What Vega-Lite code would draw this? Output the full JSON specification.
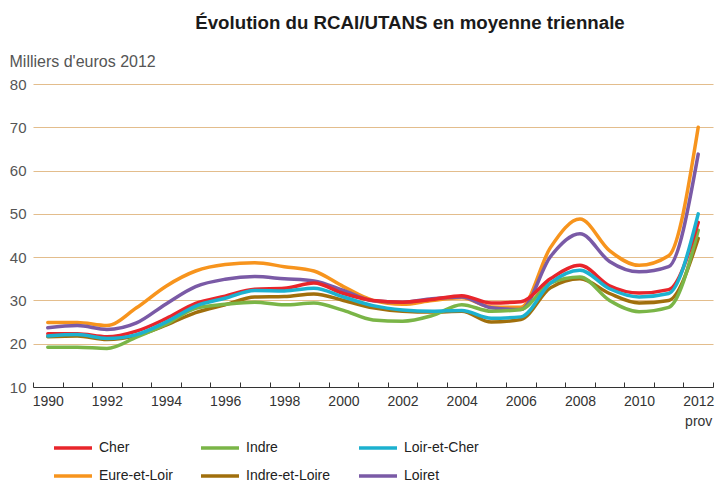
{
  "$schema": "https://vega.github.io/schema/vega-lite/v6.json",
  "autosize": {"type": "none"},
  "padding": {"left": 33, "top": 84, "right": 3, "bottom": 97},
  "width": 680,
  "height": 303,
  "background": "white",
  "config": {"view": {"stroke": null}, "font": "Liberation Sans"},
  "title": {
    "text": "Évolution du RCAI/UTANS en moyenne triennale",
    "font": "Liberation Sans",
    "fontSize": 18.7,
    "fontWeight": "bold",
    "color": "#1a1a1a",
    "anchor": "middle",
    "frame": "group",
    "baseline": "alphabetic",
    "dx": 37,
    "offset": 5
  },
  "data": {
    "values": [
      {"year": 1990, "dept": "Eure-et-Loir", "value": 24.9},
      {"year": 1991, "dept": "Eure-et-Loir", "value": 24.9},
      {"year": 1992, "dept": "Eure-et-Loir", "value": 24.2},
      {"year": 1993, "dept": "Eure-et-Loir", "value": 28.3},
      {"year": 1994, "dept": "Eure-et-Loir", "value": 33.3},
      {"year": 1995, "dept": "Eure-et-Loir", "value": 36.8},
      {"year": 1996, "dept": "Eure-et-Loir", "value": 38.3},
      {"year": 1997, "dept": "Eure-et-Loir", "value": 38.7},
      {"year": 1998, "dept": "Eure-et-Loir", "value": 37.8},
      {"year": 1999, "dept": "Eure-et-Loir", "value": 36.8},
      {"year": 2000, "dept": "Eure-et-Loir", "value": 33.2},
      {"year": 2001, "dept": "Eure-et-Loir", "value": 30.0},
      {"year": 2002, "dept": "Eure-et-Loir", "value": 29.1},
      {"year": 2003, "dept": "Eure-et-Loir", "value": 30.0},
      {"year": 2004, "dept": "Eure-et-Loir", "value": 30.6},
      {"year": 2005, "dept": "Eure-et-Loir", "value": 28.5},
      {"year": 2006, "dept": "Eure-et-Loir", "value": 28.4},
      {"year": 2007, "dept": "Eure-et-Loir", "value": 42.2},
      {"year": 2008, "dept": "Eure-et-Loir", "value": 48.8},
      {"year": 2009, "dept": "Eure-et-Loir", "value": 41.5},
      {"year": 2010, "dept": "Eure-et-Loir", "value": 38.1},
      {"year": 2011, "dept": "Eure-et-Loir", "value": 40.3},
      {"year": 2012, "dept": "Eure-et-Loir", "value": 70.0},

      {"year": 1990, "dept": "Loiret", "value": 23.7},
      {"year": 1991, "dept": "Loiret", "value": 24.2},
      {"year": 1992, "dept": "Loiret", "value": 23.3},
      {"year": 1993, "dept": "Loiret", "value": 24.8},
      {"year": 1994, "dept": "Loiret", "value": 29.2},
      {"year": 1995, "dept": "Loiret", "value": 33.2},
      {"year": 1996, "dept": "Loiret", "value": 34.9},
      {"year": 1997, "dept": "Loiret", "value": 35.5},
      {"year": 1998, "dept": "Loiret", "value": 35.0},
      {"year": 1999, "dept": "Loiret", "value": 34.5},
      {"year": 2000, "dept": "Loiret", "value": 32.3},
      {"year": 2001, "dept": "Loiret", "value": 29.9},
      {"year": 2002, "dept": "Loiret", "value": 29.6},
      {"year": 2003, "dept": "Loiret", "value": 30.4},
      {"year": 2004, "dept": "Loiret", "value": 30.8},
      {"year": 2005, "dept": "Loiret", "value": 28.3},
      {"year": 2006, "dept": "Loiret", "value": 27.9},
      {"year": 2007, "dept": "Loiret", "value": 40.1},
      {"year": 2008, "dept": "Loiret", "value": 45.4},
      {"year": 2009, "dept": "Loiret", "value": 39.0},
      {"year": 2010, "dept": "Loiret", "value": 36.6},
      {"year": 2011, "dept": "Loiret", "value": 37.8},
      {"year": 2012, "dept": "Loiret", "value": 63.8},

      {"year": 1990, "dept": "Indre-et-Loire", "value": 21.6},
      {"year": 1991, "dept": "Indre-et-Loire", "value": 21.8},
      {"year": 1992, "dept": "Indre-et-Loire", "value": 21.0},
      {"year": 1993, "dept": "Indre-et-Loire", "value": 21.9},
      {"year": 1994, "dept": "Indre-et-Loire", "value": 24.3},
      {"year": 1995, "dept": "Indre-et-Loire", "value": 27.2},
      {"year": 1996, "dept": "Indre-et-Loire", "value": 29.0},
      {"year": 1997, "dept": "Indre-et-Loire", "value": 30.8},
      {"year": 1998, "dept": "Indre-et-Loire", "value": 30.9},
      {"year": 1999, "dept": "Indre-et-Loire", "value": 31.5},
      {"year": 2000, "dept": "Indre-et-Loire", "value": 30.0},
      {"year": 2001, "dept": "Indre-et-Loire", "value": 28.3},
      {"year": 2002, "dept": "Indre-et-Loire", "value": 27.5},
      {"year": 2003, "dept": "Indre-et-Loire", "value": 27.3},
      {"year": 2004, "dept": "Indre-et-Loire", "value": 27.5},
      {"year": 2005, "dept": "Indre-et-Loire", "value": 25.0},
      {"year": 2006, "dept": "Indre-et-Loire", "value": 25.6},
      {"year": 2007, "dept": "Indre-et-Loire", "value": 32.9},
      {"year": 2008, "dept": "Indre-et-Loire", "value": 35.0},
      {"year": 2009, "dept": "Indre-et-Loire", "value": 31.6},
      {"year": 2010, "dept": "Indre-et-Loire", "value": 29.4},
      {"year": 2011, "dept": "Indre-et-Loire", "value": 30.0},
      {"year": 2012, "dept": "Indre-et-Loire", "value": 44.3},

      {"year": 1990, "dept": "Indre", "value": 19.2},
      {"year": 1991, "dept": "Indre", "value": 19.2},
      {"year": 1992, "dept": "Indre", "value": 18.9},
      {"year": 1993, "dept": "Indre", "value": 21.5},
      {"year": 1994, "dept": "Indre", "value": 24.5},
      {"year": 1995, "dept": "Indre", "value": 28.2},
      {"year": 1996, "dept": "Indre", "value": 29.1},
      {"year": 1997, "dept": "Indre", "value": 29.6},
      {"year": 1998, "dept": "Indre", "value": 29.0},
      {"year": 1999, "dept": "Indre", "value": 29.4},
      {"year": 2000, "dept": "Indre", "value": 27.7},
      {"year": 2001, "dept": "Indre", "value": 25.5},
      {"year": 2002, "dept": "Indre", "value": 25.2},
      {"year": 2003, "dept": "Indre", "value": 26.5},
      {"year": 2004, "dept": "Indre", "value": 29.0},
      {"year": 2005, "dept": "Indre", "value": 27.5},
      {"year": 2006, "dept": "Indre", "value": 27.9},
      {"year": 2007, "dept": "Indre", "value": 34.0},
      {"year": 2008, "dept": "Indre", "value": 35.4},
      {"year": 2009, "dept": "Indre", "value": 30.0},
      {"year": 2010, "dept": "Indre", "value": 27.4},
      {"year": 2011, "dept": "Indre", "value": 28.4},
      {"year": 2012, "dept": "Indre", "value": 46.2},

      {"year": 1990, "dept": "Cher", "value": 22.3},
      {"year": 1991, "dept": "Cher", "value": 22.3},
      {"year": 1992, "dept": "Cher", "value": 21.6},
      {"year": 1993, "dept": "Cher", "value": 22.9},
      {"year": 1994, "dept": "Cher", "value": 25.8},
      {"year": 1995, "dept": "Cher", "value": 29.3},
      {"year": 1996, "dept": "Cher", "value": 31.0},
      {"year": 1997, "dept": "Cher", "value": 32.6},
      {"year": 1998, "dept": "Cher", "value": 32.8},
      {"year": 1999, "dept": "Cher", "value": 34.0},
      {"year": 2000, "dept": "Cher", "value": 31.6},
      {"year": 2001, "dept": "Cher", "value": 30.0},
      {"year": 2002, "dept": "Cher", "value": 29.6},
      {"year": 2003, "dept": "Cher", "value": 30.2},
      {"year": 2004, "dept": "Cher", "value": 31.1},
      {"year": 2005, "dept": "Cher", "value": 29.4},
      {"year": 2006, "dept": "Cher", "value": 29.7},
      {"year": 2007, "dept": "Cher", "value": 35.0},
      {"year": 2008, "dept": "Cher", "value": 38.1},
      {"year": 2009, "dept": "Cher", "value": 33.4},
      {"year": 2010, "dept": "Cher", "value": 31.7},
      {"year": 2011, "dept": "Cher", "value": 32.5},
      {"year": 2012, "dept": "Cher", "value": 48.0},

      {"year": 1990, "dept": "Loir-et-Cher", "value": 21.8},
      {"year": 1991, "dept": "Loir-et-Cher", "value": 22.1},
      {"year": 1992, "dept": "Loir-et-Cher", "value": 21.2},
      {"year": 1993, "dept": "Loir-et-Cher", "value": 22.1},
      {"year": 1994, "dept": "Loir-et-Cher", "value": 25.0},
      {"year": 1995, "dept": "Loir-et-Cher", "value": 28.7},
      {"year": 1996, "dept": "Loir-et-Cher", "value": 30.5},
      {"year": 1997, "dept": "Loir-et-Cher", "value": 32.3},
      {"year": 1998, "dept": "Loir-et-Cher", "value": 32.2},
      {"year": 1999, "dept": "Loir-et-Cher", "value": 32.8},
      {"year": 2000, "dept": "Loir-et-Cher", "value": 30.8},
      {"year": 2001, "dept": "Loir-et-Cher", "value": 28.8},
      {"year": 2002, "dept": "Loir-et-Cher", "value": 27.8},
      {"year": 2003, "dept": "Loir-et-Cher", "value": 27.5},
      {"year": 2004, "dept": "Loir-et-Cher", "value": 27.7},
      {"year": 2005, "dept": "Loir-et-Cher", "value": 25.9},
      {"year": 2006, "dept": "Loir-et-Cher", "value": 26.2},
      {"year": 2007, "dept": "Loir-et-Cher", "value": 34.0},
      {"year": 2008, "dept": "Loir-et-Cher", "value": 37.0},
      {"year": 2009, "dept": "Loir-et-Cher", "value": 32.7},
      {"year": 2010, "dept": "Loir-et-Cher", "value": 30.8},
      {"year": 2011, "dept": "Loir-et-Cher", "value": 31.6},
      {"year": 2012, "dept": "Loir-et-Cher", "value": 50.0}
    ]
  },
  "mark": {"type": "line", "interpolate": "monotone", "strokeWidth": 3.5, "strokeCap": "round", "strokeJoin": "round"},
  "encoding": {
    "x": {
      "field": "year",
      "type": "ordinal",
      "bandPosition": 0.5,
      "scale": {"type": "band", "paddingInner": 0, "paddingOuter": 0},
      "axis": {
        "title": null,
        "tickBand": "extent",
        "tickSize": -5,
        "tickColor": "#333333",
        "domainColor": "#333333",
        "labelAngle": 0,
        "labelFont": "Liberation Sans",
        "labelFontSize": 14,
        "labelColor": "#333333",
        "labelPadding": 12,
        "labelLineHeight": 20,
        "labelBaseline": "top",
        "labelExpr": "datum.value == 2012 ? ['2012', 'prov'] : (datum.value % 2 == 0 ? datum.label : '')",
        "grid": false
      }
    },
    "y": {
      "field": "value",
      "type": "quantitative",
      "scale": {"domain": [10, 80], "nice": false, "zero": false},
      "axis": {
        "values": [10, 20, 30, 40, 50, 60, 70, 80],
        "title": "Milliers d'euros 2012",
        "titleAngle": 0,
        "titleAlign": "left",
        "titleBaseline": "alphabetic",
        "titleX": -24,
        "titleY": -18,
        "titleFont": "Liberation Sans",
        "titleFontSize": 16,
        "titleFontWeight": "normal",
        "titleColor": "#555555",
        "domain": false,
        "ticks": false,
        "labelFont": "Liberation Sans",
        "labelFontSize": 15,
        "labelColor": "#555555",
        "labelPadding": 7,
        "grid": true,
        "gridColor": "#e3bd8c",
        "gridWidth": 1.2
      }
    },
    "color": {
      "field": "dept",
      "type": "nominal",
      "scale": {
        "domain": ["Cher", "Indre", "Loir-et-Cher", "Eure-et-Loir", "Indre-et-Loire", "Loiret"],
        "range": ["#e8252b", "#7ab547", "#1cb1cf", "#f7941d", "#a06f0c", "#7a5aa6"]
      },
      "legend": {
        "title": null,
        "orient": "none",
        "legendX": 19,
        "legendY": 343,
        "direction": "horizontal",
        "columns": 3,
        "columnPadding": 21,
        "rowPadding": -9,
        "padding": 0,
        "symbolType": "stroke",
        "symbolSize": 1444,
        "symbolStrokeWidth": 3.5,
        "labelFont": "Liberation Sans",
        "labelFontSize": 14,
        "labelColor": "#222222",
        "labelOffset": 5
      }
    }
  }
}
